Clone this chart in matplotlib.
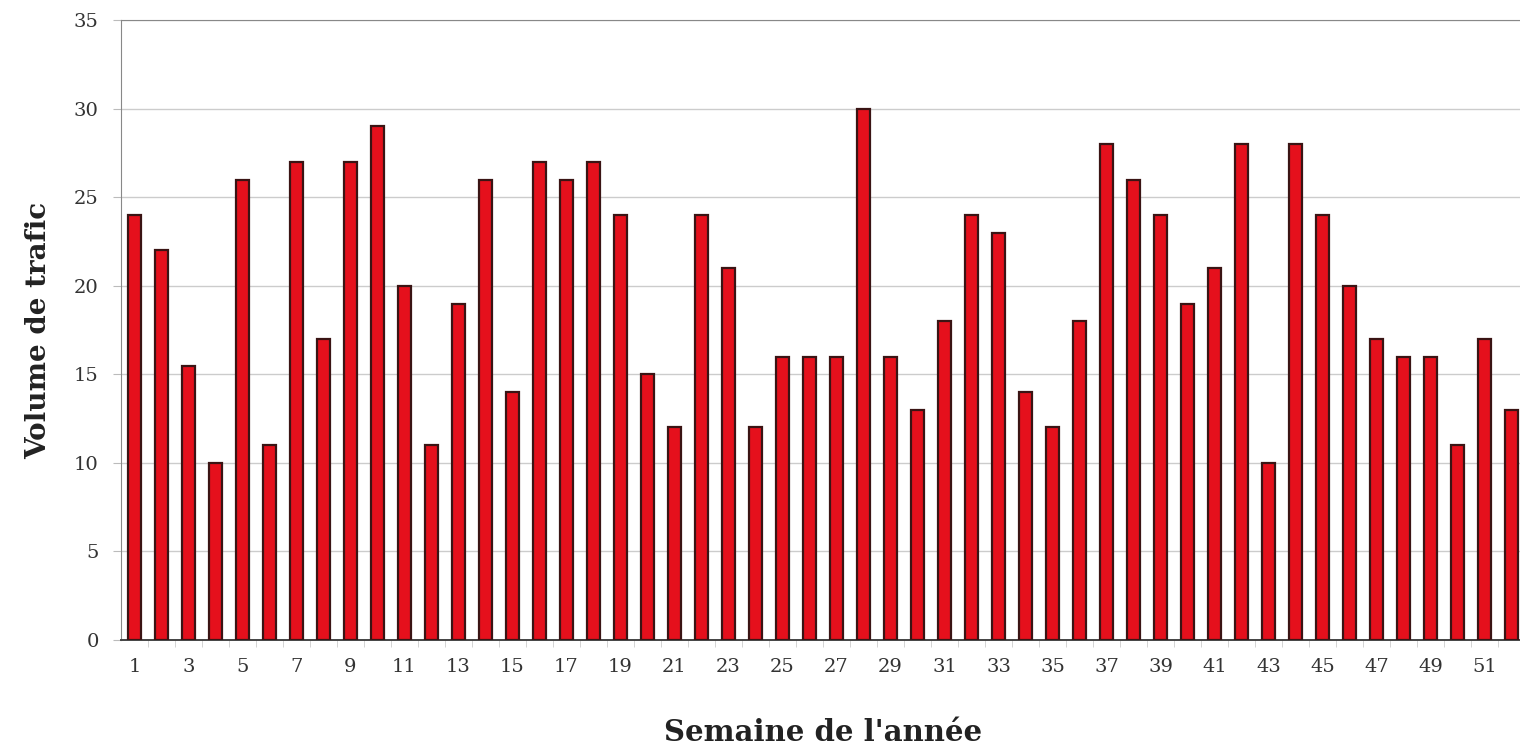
import matplotlib.pyplot as plt

weeks = list(range(1, 53))
volumes = [24, 22, 15.5, 10, 26, 11, 27, 17, 27, 29,
           20, 11, 19, 26, 14, 27, 26, 27, 24, 15,
           12, 24, 21, 12, 16, 16, 16, 30, 16, 13,
           18, 24, 23, 14, 12, 18, 28, 26, 24, 19,
           21, 28, 10, 28, 24, 20, 17, 16, 16, 11,
           17, 13]
tick_weeks = list(range(1, 53, 2))

plt.rcParams['font.family'] = ['DejaVu Serif']

fig = plt.figure(figsize=(15.2, 7.55), dpi=100)
ax = fig.add_axes([0.0796, 0.1523, 0.9237, 0.821])

ax.bar(weeks, volumes, width=0.46, color="#e5101c", edgecolor="#3a1414",
       linewidth=1.6, zorder=3)

ax.set_xlim(0.5, 52.5)
ax.set_ylim(0, 35)
ax.set_yticks(range(0, 36, 5))
ax.set_xticks(tick_weeks)
ax.set_xticks([w + 0.5 for w in weeks], minor=True)

ax.grid(axis="y", color="#cccccc", linewidth=1, zorder=0)
ax.tick_params(axis="y", length=6, color="#bbbbbb", pad=10,
               labelsize=14, labelcolor="#333333")
ax.tick_params(axis="x", which="major", length=0, pad=13,
               labelsize=14, labelcolor="#333333")
ax.tick_params(axis="x", which="minor", length=5, color="#cccccc")

for side in ["top", "left", "right"]:
    ax.spines[side].set_color("#888888")
ax.spines["bottom"].set_color("#444444")
ax.spines["bottom"].set_linewidth(1.4)

ax.set_ylabel("Volume de trafic", fontsize=20, fontweight="bold",
              color="#222222", labelpad=16)
ax.set_xlabel("Semaine de l'année", fontsize=21, fontweight="bold",
              color="#222222", labelpad=30)

fig.savefig("out.png", dpi=100)
